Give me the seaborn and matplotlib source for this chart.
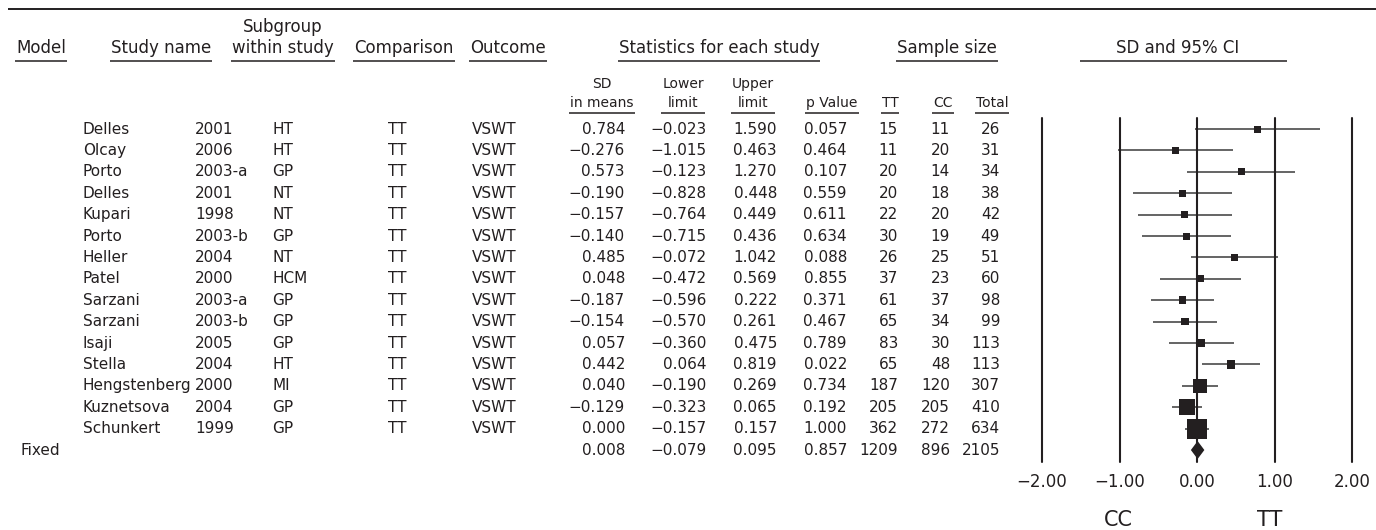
import numpy as np
import pandas as pd
import matplotlib
matplotlib.use("Agg")
import matplotlib.pyplot as plt
import seaborn as sns
from matplotlib.lines import Line2D
from matplotlib.transforms import Bbox

# ---------------- data ----------------
study_names = ["Delles", "Olcay", "Porto", "Delles", "Kupari", "Porto", "Heller", "Patel",
               "Sarzani", "Sarzani", "Isaji", "Stella", "Hengstenberg", "Kuznetsova", "Schunkert"]
years = ["2001", "2006", "2003-a", "2001", "1998", "2003-b", "2004", "2000",
         "2003-a", "2003-b", "2005", "2004", "2000", "2004", "1999"]
subgroups = ["HT", "HT", "GP", "NT", "NT", "GP", "NT", "HCM", "GP", "GP", "GP", "HT", "MI", "GP", "GP"]
comparisons = ["TT"] * 15
outcomes = ["VSWT"] * 15
sd_means = [0.784, -0.276, 0.573, -0.190, -0.157, -0.140, 0.485, 0.048,
            -0.187, -0.154, 0.057, 0.442, 0.040, -0.129, 0.000]
lower_limit = [-0.023, -1.015, -0.123, -0.828, -0.764, -0.715, -0.072, -0.472,
               -0.596, -0.570, -0.360, 0.064, -0.190, -0.323, -0.157]
upper_limit = [1.590, 0.463, 1.270, 0.448, 0.449, 0.436, 1.042, 0.569,
               0.222, 0.261, 0.475, 0.819, 0.269, 0.065, 0.157]
p_values = [0.057, 0.464, 0.107, 0.559, 0.611, 0.634, 0.088, 0.855,
            0.371, 0.467, 0.789, 0.022, 0.734, 0.192, 1.000]
n_tt = [15, 11, 20, 20, 22, 30, 26, 37, 61, 65, 83, 65, 187, 205, 362]
n_cc = [11, 20, 14, 18, 20, 19, 25, 23, 37, 34, 30, 48, 120, 205, 272]
n_total = [26, 31, 34, 38, 42, 49, 51, 60, 98, 99, 113, 113, 307, 410, 634]

fixed_label = "Fixed"
fixed_sd = 0.008
fixed_lower = -0.079
fixed_upper = 0.095
fixed_p = 0.857
fixed_tt = 1209
fixed_cc = 896
fixed_total = 2105

tick_values = [-2, -1, 0, 1, 2]
tick_labels = ["\u22122.00", "\u22121.00", "0.00", "1.00", "2.00"]
side_labels = ["CC", "TT"]

# ---------------- style ----------------
sns.set_style("white")
plt.rcParams['font.family'] = ['DejaVu Sans']
INK = '#231f20'

W, H = 1376, 530
fig = plt.figure(figsize=(W / 100, H / 100), dpi=100)
fig.patch.set_facecolor('white')


def fx(x):
    return x / W


def fy(y):
    return 1 - y / H


def txt(x, y, s, ha='left', va='center', size=11):
    return fig.text(fx(x), fy(y), s, ha=ha, va=va, fontsize=size, color=INK)


def hline_px(x0, x1, y, lw=1.1):
    fig.add_artist(Line2D([fx(x0), fx(x1)], [fy(y), fy(y)], transform=fig.transFigure,
                          color=INK, lw=lw, solid_capstyle='butt'))


def fmt(v):
    return f"{v:.3f}".replace("-", "\u2212")


# ---------------- forest axes ----------------
ax = fig.add_axes([fx(1042), fy(462), 310 / W, 344 / H])
Y_BOTTOM, Y_TOP = 15.56, -0.514

lo = np.array(lower_limit)
hi = np.array(upper_limit)
se = (hi - lo) / 3.92
weight = 1 / se ** 2
side_px = np.maximum(7.0, 1.6 * np.sqrt(weight))
area = (side_px * 0.72) ** 2

df = pd.DataFrame({"sd": sd_means, "row": np.arange(len(sd_means)), "area": area,
                   "lo": lo, "hi": hi})

sns.scatterplot(data=df, x="sd", y="row", size="area",
                sizes=(area.min(), area.max()), size_norm=(area.min(), area.max()),
                marker='s', color=INK, linewidth=0, legend=False, ax=ax, zorder=4,
                clip_on=False)
ax.hlines(df["row"], df["lo"], df["hi"], colors='#3a3a3a', lw=1.1, zorder=3)
frow = len(sd_means)
ax.fill([fixed_lower, fixed_sd, fixed_upper, fixed_sd],
        [frow, frow - 0.42, frow, frow + 0.42], color=INK, lw=0, zorder=4)

ax.set_xlim(-2, 2)
ax.set_ylim(Y_BOTTOM, Y_TOP)
ax.set_xticks(tick_values)
ax.set_xticklabels(tick_labels, fontsize=12, color=INK)
ax.tick_params(axis='x', length=0, pad=8)
ax.set_yticks([])
ax.set_xlabel("")
ax.set_ylabel("")
ax.grid(False)
for s in ax.spines.values():
    s.set_visible(False)
ax.set_facecolor('none')

# reference lines drawn at figure level with the axes' data transform
for tv in tick_values:
    fig.add_artist(Line2D([tv, tv], [Y_TOP, Y_BOTTOM], transform=ax.transData,
                          color=INK, lw=1.5, zorder=5, clip_on=False))


def row_y(i):
    disp = ax.transData.transform((0, i))[1]
    return H - disp


# ---------------- top rule ----------------
hline_px(8, W, 9, lw=1.4)

renderer = fig.canvas.get_renderer()


def underline(texts, y, pad=1):
    bb = Bbox.union([t.get_window_extent(renderer) for t in texts])
    hline_px(bb.x0 - pad, bb.x1 + pad, y)


# ---------------- headers ----------------
HB = 53  # baseline of main headers
HS = 12
t = txt(41, HB, "Model", ha='center', va='baseline', size=HS); underline([t], 61)
t = txt(161, HB, "Study name", ha='center', va='baseline', size=HS); underline([t], 61)
t1 = txt(283, 32, "Subgroup", ha='center', va='baseline', size=HS)
t2 = txt(283, HB, "within study", ha='center', va='baseline', size=HS); underline([t2], 61)
t = txt(404, HB, "Comparison", ha='center', va='baseline', size=HS); underline([t], 61)
t = txt(508, HB, "Outcome", ha='center', va='baseline', size=HS); underline([t], 61)
t = txt(719, HB, "Statistics for each study", ha='center', va='baseline', size=HS); underline([t], 61)
t = txt(947, HB, "Sample size", ha='center', va='baseline', size=HS); underline([t], 61)
txt(1178, HB, "SD and 95% CI", ha='center', va='baseline', size=HS)
hline_px(1080, 1287, 61)

SS = 10
for cx, lines in [(602, ["SD", "in means"]), (683, ["Lower", "limit"]), (753, ["Upper", "limit"]),
                  (832, ["p Value"]), (890, ["TT"]), (943, ["CC"]), (992, ["Total"])]:
    ts = []
    if len(lines) == 2:
        ts.append(txt(cx, 88, lines[0], ha='center', va='baseline', size=SS))
    ts.append(txt(cx, 107, lines[-1], ha='center', va='baseline', size=SS))
    underline(ts, 113)

# ---------------- table rows ----------------
DS = 11
for i in range(len(study_names)):
    y = row_y(i)
    txt(83, y, study_names[i], size=DS)
    txt(195, y, years[i], size=DS)
    txt(272, y, subgroups[i], size=DS)
    txt(397, y, comparisons[i], ha='center', size=DS)
    txt(472, y, outcomes[i], size=DS)
    txt(625, y, fmt(sd_means[i]), ha='right', size=DS)
    txt(707, y, fmt(lower_limit[i]), ha='right', size=DS)
    txt(777, y, fmt(upper_limit[i]), ha='right', size=DS)
    txt(847, y, fmt(p_values[i]), ha='right', size=DS)
    txt(898, y, str(n_tt[i]), ha='right', size=DS)
    txt(950, y, str(n_cc[i]), ha='right', size=DS)
    txt(1000, y, str(n_total[i]), ha='right', size=DS)

y = row_y(frow)
txt(20, y, fixed_label, size=DS)
txt(625, y, fmt(fixed_sd), ha='right', size=DS)
txt(707, y, fmt(fixed_lower), ha='right', size=DS)
txt(777, y, fmt(fixed_upper), ha='right', size=DS)
txt(847, y, fmt(fixed_p), ha='right', size=DS)
txt(898, y, str(fixed_tt), ha='right', size=DS)
txt(950, y, str(fixed_cc), ha='right', size=DS)
txt(1000, y, str(fixed_total), ha='right', size=DS)

# ---------------- CC / TT ----------------
txt(1118, 520, side_labels[0], ha='center', size=15)
txt(1270, 520, side_labels[1], ha='center', size=15)

fig.savefig("out.png", dpi=100, facecolor='white')
